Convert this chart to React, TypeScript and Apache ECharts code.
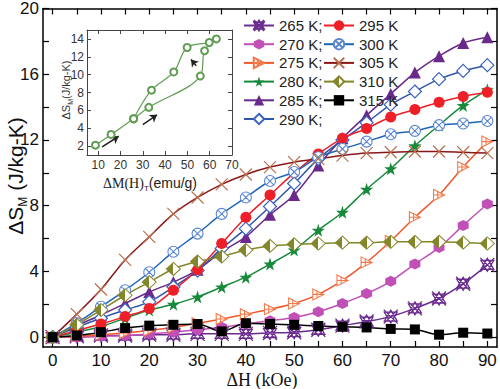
import React, { useEffect, useRef } from "react";
import * as echarts from "echarts";

// ---- data ----
const fieldKOe = [0, 5, 10, 15, 20, 25, 30, 35, 40, 45, 50, 55, 60, 65, 70, 75, 80, 85, 90];
const seriesNames = ["265 K", "270 K", "275 K", "280 K", "285 K", "290 K", "295 K", "300 K", "305 K", "310 K", "315 K"];
const dS265 = [0, 0.05, 0.1, 0.1, 0.15, 0.15, 0.2, 0.2, 0.2, 0.25, 0.3, 0.45, 0.7, 0.95, 1.25, 1.75, 2.35, 3.25, 4.4];
const dS270 = [0, 0.0, 0.05, 0.1, 0.2, 0.3, 0.45, 0.6, 0.8, 1.0, 1.2, 1.55, 2.05, 2.65, 3.4, 4.45, 5.45, 6.8, 8.1];
const dS275 = [0, 0.05, 0.15, 0.25, 0.4, 0.6, 0.85, 1.1, 1.4, 1.7, 2.05, 2.6, 3.45, 4.55, 5.85, 7.3, 8.65, 10.35, 11.9];
const dS280 = [0, 0.3, 0.65, 1.15, 1.65, 2.0, 2.45, 3.05, 3.65, 4.45, 5.3, 6.5, 7.6, 9.0, 10.25, 11.65, 12.9, 14.1, 15.05];
const dS285 = [0, 0.7, 1.35, 2.05, 2.75, 3.35, 4.1, 5.2, 6.1, 7.45, 8.65, 10.45, 12.1, 13.5, 14.8, 16.1, 17.1, 17.9, 18.25];
const dS290 = [0, 0.6, 1.15, 1.65, 2.15, 3.05, 4.05, 5.4, 6.6, 7.95, 9.35, 10.85, 12.0, 13.05, 14.15, 14.95, 15.7, 16.2, 16.55];
const dS295 = [0, 0.4, 0.8, 1.25, 1.75, 2.85, 4.1, 5.7, 7.3, 8.65, 10.0, 11.15, 12.1, 12.7, 13.4, 13.85, 14.3, 14.65, 14.9];
const dS300 = [0, 0.85, 1.85, 2.85, 3.95, 5.2, 6.3, 7.5, 8.5, 9.5, 10.05, 10.95, 11.45, 11.9, 12.35, 12.55, 12.9, 13.0, 13.15];
const dS305 = [0, 1.4, 2.9, 4.7, 6.1, 7.5, 8.5, 9.3, 9.9, 10.35, 10.65, 10.85, 11.05, 11.2, 11.25, 11.3, 11.3, 11.25, 11.2];
const dS310 = [0, 0.75, 1.65, 2.55, 3.35, 4.15, 4.6, 4.9, 5.3, 5.55, 5.65, 5.7, 5.75, 5.75, 5.8, 5.8, 5.8, 5.75, 5.7];
const dS315 = [0, 0.1, 0.3, 0.55, 0.7, 0.75, 0.8, 0.35, 0.85, 0.8, 0.75, 0.68, 0.63, 0.59, 0.5, 0.47, 0.15, 0.27, 0.22];
const allValues = [dS265, dS270, dS275, dS280, dS285, dS290, dS295, dS300, dS305, dS310, dS315];

const xTickValues = [0, 5, 10, 15, 20, 25, 30, 35, 40, 45, 50, 55, 60, 65, 70, 75, 80, 85, 90];
const xLabelValues = [0, 10, 20, 30, 40, 50, 60, 70, 80, 90];
const yTickValues = [0, 2, 4, 6, 8, 10, 12, 14, 16, 18, 20];
const yLabelValues = [0, 4, 8, 12, 16, 20];

// inset: ΔS_M vs ΔM(H)_T, in loop order
const insetM = [8.8, 15.8, 25.9, 32.7, 55.8, 57.7, 63.0, 59.8, 49.9, 43.9, 33.9, 25.9];
const insetS = [2.1, 3.3, 5.06, 6.34, 9.84, 12.67, 14.0, 13.6, 13.04, 10.3, 8.26, 5.06];
const insetXTicks = [10, 20, 30, 40, 50, 60, 70];
const insetYTicks = [2, 4, 6, 8, 10, 12, 14];

const FONT = 'Arial, "Liberation Sans", Helvetica, sans-serif';
const SERIF = '"Liberation Serif", "Times New Roman", "DejaVu Serif", serif';

const SYM_XSTAR = "path://M0 0 L100 100 M100 0 L0 100 M50 4 L96 82 L4 82 Z M50 96 L96 18 L4 18 Z";
const SYM_HEX = "path://M50 0 L93.3 25 L93.3 75 L50 100 L6.7 75 L6.7 25 Z";
const SYM_TRICROSS = "path://M0 0 L100 50 L0 100 Z M0 50 L100 50 M38 12 L38 88";
const SYM_STAR = "path://M50 0 L61 35 L98 35 L68 57 L79 91 L50 70 L21 91 L32 57 L2 35 L39 35 Z";
const SYM_CIRCX = "path://M0 50 A50 50 0 1 1 100 50 A50 50 0 1 1 0 50 Z M16 16 L84 84 M84 16 L16 84";
const SYM_X = "path://M0 0 L100 100 M100 0 L0 100";

export default function App() {
  const ref = useRef<HTMLDivElement>(null);
  useEffect(() => {
    const chart = echarts.init(ref.current!, null, { renderer: "svg" });
    const olive = "#84862a";
    const halfFill = new echarts.graphic.LinearGradient(0, 0, 1, 0, [
      { offset: 0, color: olive },
      { offset: 0.5, color: olive },
      { offset: 0.5, color: "#ffffff" },
      { offset: 1, color: "#ffffff" },
    ]);
    const styles: any[] = [
      { line: "#6a2c8e", symbol: SYM_XSTAR, size: 14, fill: "rgba(255,255,255,0)", border: "#6a2c8e", bw: 1.3 },
      { line: "#c150b6", symbol: SYM_HEX, size: 11, fill: "#c150b6", border: "#c150b6", bw: 0 },
      { line: "#f2572a", symbol: SYM_TRICROSS, size: 11, fill: "#ffffff", border: "#f57a4a", bw: 1.1 },
      { line: "#17893b", symbol: SYM_STAR, size: 13, fill: "#17893b", border: "#17893b", bw: 0 },
      { line: "#6a2a8c", symbol: "triangle", size: 12, fill: "#6a2a8c", border: "#6a2a8c", bw: 0 },
      { line: "#2f55a8", symbol: "diamond", size: 13, fill: "#ffffff", border: "#3a64be", bw: 1.2 },
      { line: "#ee1f26", symbol: "circle", size: 11, fill: "#ee1f26", border: "#ee1f26", bw: 0 },
      { line: "#1f66b6", symbol: SYM_CIRCX, size: 11, fill: "#ffffff", border: "#5a86d2", bw: 1.1 },
      { line: "#8a1717", symbol: SYM_X, size: 12, fill: "rgba(255,255,255,0)", border: "#b8704f", bw: 1.2 },
      { line: olive, symbol: "diamond", size: [14, 13], fill: halfFill, border: olive, bw: 1 },
      { line: "#000000", symbol: "rect", size: 10, fill: "#000000", border: "#000000", bw: 0 },
    ];

    const mainSeries = seriesNames.map((name, i) => ({
      name,
      type: "line",
      xAxisIndex: 0,
      yAxisIndex: 0,
      smooth: 0.3,
      data: fieldKOe.map((h, j) => [h, allValues[i][j]]),
      symbol: styles[i].symbol,
      symbolSize: styles[i].size,
      showAllSymbol: true,
      lineStyle: { color: styles[i].line, width: 1.5 },
      itemStyle: { color: styles[i].fill, borderColor: styles[i].border, borderWidth: styles[i].bw },
      emphasis: { disabled: true },
      z: 2,
    }));

    const insetColor = "#5f9d52";
    const insetSeries = {
      type: "line",
      xAxisIndex: 2,
      yAxisIndex: 2,
      smooth: 0.35,
      data: insetM.map((m, j) => [m, insetS[j]]),
      symbol: "emptyCircle",
      symbolSize: 7,
      lineStyle: { color: insetColor, width: 1.2 },
      itemStyle: { color: insetColor, borderColor: insetColor, borderWidth: 1 },
      emphasis: { disabled: true },
      z: 7,
      markLine: {
        silent: true,
        symbol: ["none", "arrow"],
        symbolSize: 7,
        label: { show: false },
        lineStyle: { color: "#222", width: 1.5, type: "solid" },
        emphasis: { disabled: true },
        data: [
          [{ coord: [11.8, 1.92] }, { coord: [19.2, 3.1] }],
          [{ coord: [30, 4.4] }, { coord: [36.4, 5.5] }],
          [{ coord: [54.0, 11.0], lineStyle: { curveness: 0.9 } }, { coord: [51.6, 11.7] }],
        ],
      },
    };

    const mainAxisLine = { show: true, onZero: false, lineStyle: { color: "#000", width: 1.5 } };
    const insetAxisLine = { show: true, onZero: false, lineStyle: { color: "#444", width: 1 } };

    const legendCommon = {
      orient: "vertical",
      itemWidth: 30,
      itemHeight: 13,
      itemGap: 3.7,
      top: 13,
      textStyle: { fontSize: 15, color: "#222", fontFamily: FONT },
      selectedMode: false,
    };

    const insetAxisBase = { z: 8, splitLine: { show: false } };

    const option: any = {
      animation: false,
      backgroundColor: "#ffffff",
      textStyle: { fontFamily: FONT },
      grid: [
        { left: 43, right: 3, top: 8, bottom: 42 },
        { left: 87, top: 30, width: 145, height: 125, show: true, backgroundColor: "#ffffff", borderWidth: 0, z: 4 },
      ],
      legend: [
        { ...legendCommon, left: 238, data: seriesNames.slice(0, 6), formatter: (n: string) => n + ";" },
        { ...legendCommon, left: 318, data: seriesNames.slice(6) },
      ],
      xAxis: [
        {
          gridIndex: 0, type: "value", min: -2, max: 92, position: "bottom",
          axisLine: mainAxisLine,
          axisTick: { inside: true, length: 6, customValues: xTickValues, lineStyle: { color: "#000", width: 1.2 } },
          axisLabel: { customValues: xLabelValues, fontSize: 17, lineHeight: 17, color: "#111", margin: 5, fontFamily: FONT },
          splitLine: { show: false },
        },
        {
          gridIndex: 0, type: "value", min: -2, max: 92, position: "top",
          axisLine: mainAxisLine,
          axisTick: { inside: true, length: 6, customValues: xTickValues, lineStyle: { color: "#000", width: 1.2 } },
          axisLabel: { show: false },
          splitLine: { show: false },
        },
        {
          ...insetAxisBase,
          gridIndex: 1, type: "value", min: 5, max: 70, position: "bottom",
          axisLine: insetAxisLine,
          axisTick: { inside: true, length: 4, customValues: insetXTicks, lineStyle: { color: "#444" } },
          axisLabel: { customValues: insetXTicks, fontSize: 12, color: "#333", margin: 4, fontFamily: FONT },
        },
        {
          ...insetAxisBase,
          gridIndex: 1, type: "value", min: 5, max: 70, position: "top",
          axisLine: insetAxisLine,
          axisTick: { inside: true, length: 4, customValues: insetXTicks, lineStyle: { color: "#444" } },
          axisLabel: { show: false },
        },
      ],
      yAxis: [
        {
          gridIndex: 0, type: "value", min: -0.6, max: 20, position: "left",
          axisLine: mainAxisLine,
          axisTick: { inside: true, length: 6, customValues: yTickValues, lineStyle: { color: "#000", width: 1.2 } },
          axisLabel: { customValues: yLabelValues, fontSize: 17, color: "#111", margin: 4, fontFamily: FONT },
          splitLine: { show: false },
        },
        {
          gridIndex: 0, type: "value", min: -0.6, max: 20, position: "right",
          axisLine: mainAxisLine,
          axisTick: { inside: true, length: 6, customValues: yTickValues, lineStyle: { color: "#000", width: 1.2 } },
          axisLabel: { show: false },
          splitLine: { show: false },
        },
        {
          ...insetAxisBase,
          gridIndex: 1, type: "value", min: 1, max: 15, position: "left",
          axisLine: insetAxisLine,
          axisTick: { inside: true, length: 4, customValues: insetYTicks, lineStyle: { color: "#444" } },
          axisLabel: { customValues: insetYTicks, fontSize: 12, color: "#333", margin: 3, fontFamily: FONT },
        },
        {
          ...insetAxisBase,
          gridIndex: 1, type: "value", min: 1, max: 15, position: "right",
          axisLine: insetAxisLine,
          axisTick: { inside: true, length: 4, customValues: insetYTicks, lineStyle: { color: "#444" } },
          axisLabel: { show: false },
        },
      ],
      graphic: [
        {
          type: "text", x: 15, y: 176, rotation: Math.PI / 2, z: 10,
          style: {
            text: "{a|ΔS}{s|M}{a| (J/kg-K)}",
            align: "center", verticalAlign: "middle",
            rich: {
              a: { fontSize: 21, fontFamily: FONT, fill: "#111", lineHeight: 28 },
              s: { fontSize: 12, fontFamily: FONT, fill: "#111", verticalAlign: "bottom" },
            },
          },
        },
        {
          type: "text", x: 262, y: 380, z: 10,
          style: { text: "ΔH (kOe)", align: "center", verticalAlign: "middle", fontSize: 18, lineHeight: 18, fontFamily: SERIF, fill: "#111" },
        },
        {
          type: "text", x: 66, y: 90, rotation: Math.PI / 2, z: 10,
          style: {
            text: "{a|ΔS}{s|M}{a|(J/kg-K)}",
            align: "center", verticalAlign: "middle",
            rich: {
              a: { fontSize: 11, fontFamily: FONT, fill: "#333", lineHeight: 15 },
              s: { fontSize: 7, fontFamily: FONT, fill: "#333", verticalAlign: "bottom" },
            },
          },
        },
        {
          type: "text", x: 150, y: 183, z: 10,
          style: {
            text: "{a|ΔM(H)}{s|T}{b|(emu/g)}",
            align: "center", verticalAlign: "middle",
            rich: {
              a: { fontSize: 14, fontFamily: SERIF, fill: "#222", lineHeight: 19 },
              s: { fontSize: 8, fontFamily: FONT, fill: "#222", verticalAlign: "bottom" },
              b: { fontSize: 14, fontFamily: FONT, fill: "#222", lineHeight: 19 },
            },
          },
        },
      ],
      series: [...mainSeries, insetSeries],
    };
    chart.setOption(option);
    return () => chart.dispose();
  }, []);
  return <div ref={ref} style={{ position: "fixed", left: 0, top: 0, width: 500, height: 389 }} />;
}
